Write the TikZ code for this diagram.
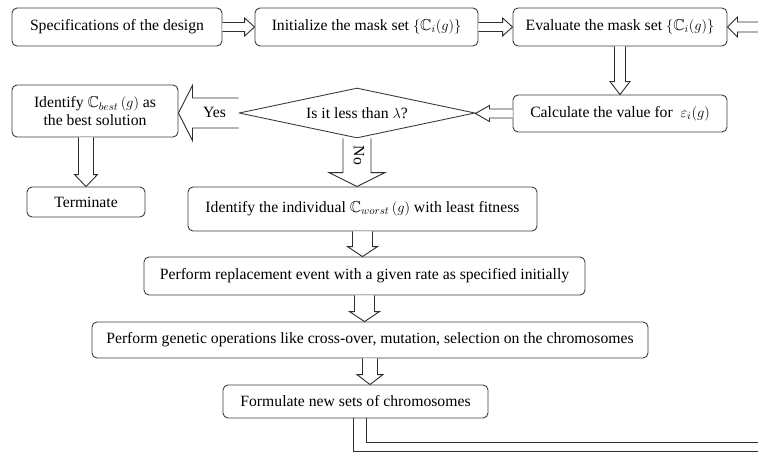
\documentclass[tikz,border=0pt]{standalone}
\usepackage{amssymb}
\usepackage{fontspec}
\setmainfont{Liberation Serif}
\usetikzlibrary{shapes.geometric, calc}

\definecolor{boxline}{HTML}{3C3C3C}
\definecolor{arrowline}{HTML}{2E2E2E}

\tikzset{
	stepbox/.style={
			draw=boxline,
			rounded corners=5pt,
			line width=0.9pt,
			fill=white,
			inner sep=0pt,
			align=center,
			font=\fontsize{15.7}{18}\selectfont
		},
	decisionbox/.style={
			diamond,
			draw=boxline,
			line width=0.9pt,
			aspect=4.7,
			inner sep=0pt,
			font=\fontsize{15.7}{18}\selectfont
		},
	blockarrow/.style={
			draw=arrowline,
			line width=0.9pt,
			fill=white,
			line join=miter
		},
	arrowtext/.style={
			font=\fontsize{15.7}{18}\selectfont,
			inner sep=0pt
		}
}

% hollow block arrows: from, to, half shaft, half head, head length
\newcommand{\rblockarrow}[5]{%
	\draw[blockarrow] let \p1=(#1), \p2=(#2) in
		(\x1,\y1+#3) -- (\x2-#5,\y1+#3) -- (\x2-#5,\y1+#4) -- (\x2,\y1)
		-- (\x2-#5,\y1-#4) -- (\x2-#5,\y1-#3) -- (\x1,\y1-#3);}
\newcommand{\lblockarrow}[5]{%
	\draw[blockarrow] let \p1=(#1), \p2=(#2) in
		(\x1,\y1+#3) -- (\x2+#5,\y1+#3) -- (\x2+#5,\y1+#4) -- (\x2,\y1)
		-- (\x2+#5,\y1-#4) -- (\x2+#5,\y1-#3) -- (\x1,\y1-#3);}
\newcommand{\dblockarrow}[5]{%
	\draw[blockarrow] let \p1=(#1), \p2=(#2) in
		(\x1-#3,\y1) -- (\x1-#3,\y2+#5) -- (\x1-#4,\y2+#5) -- (\x1,\y2)
		-- (\x1+#4,\y2+#5) -- (\x1+#3,\y2+#5) -- (\x1+#3,\y1);}

\begin{document}
\begin{tikzpicture}[x=1pt, y=-1pt]
	\useasboundingbox (0, 0) rectangle (758, 452);

	\node[stepbox, minimum width=210pt, minimum height=38pt] (spec) at (117, 27) {Specifications of the design};
	\node[stepbox, minimum width=223pt, minimum height=38pt] (init) at (366.5, 27) {Initialize the mask set $\{\mathbb{C}_i(g)\}$};
	\node[stepbox, minimum width=214pt, minimum height=38pt] (eval) at (620, 27) {Evaluate the mask set $\{\mathbb{C}_i(g)\}$};
	\node[stepbox, minimum width=214pt, minimum height=37pt] (calc) at (620, 113.5) {Calculate the value for\ \ $\varepsilon_i(g)$};
	\node[decisionbox, minimum width=236pt, minimum height=50pt] (less) at (357, 113) {Is it less than $\lambda$?};
	\node[stepbox, minimum width=166pt, minimum height=52pt] (best) at (95, 111) {Identify $\mathbb{C}_{best}\,(g)$ as\\the best solution};
	\node[stepbox, minimum width=118pt, minimum height=30pt] (term) at (86, 202) {Terminate};
	\node[stepbox, minimum width=349pt, minimum height=44pt] (worst) at (362.5, 209) {Identify the individual $\mathbb{C}_{worst}\,(g)$ with least fitness};
	\node[stepbox, minimum width=441pt, minimum height=38pt] (repl) at (364.5, 276) {Perform replacement event with a given rate as specified initially};
	\node[stepbox, minimum width=556pt, minimum height=36pt] (gen) at (370, 340) {Perform genetic operations like cross-over, mutation, selection on the chromosomes};
	\node[stepbox, minimum width=265pt, minimum height=33pt] (form) at (355.5, 401.5) {Formulate new sets of chromosomes};

	\coordinate (loopin) at (758, 27);
	\coordinate (loopout) at (758, 446.5);

	\rblockarrow{spec.east}{init.west}{4.5pt}{9pt}{10pt}
	\rblockarrow{init.east}{eval.west}{4.5pt}{9pt}{10pt}
	\lblockarrow{loopin}{eval.east}{5pt}{10pt}{10pt}
	\dblockarrow{eval.south}{calc.north}{5.5pt}{10pt}{13pt}
	\lblockarrow{calc.west}{less.east}{4.5pt}{8pt}{14pt}

	% yes / no branches
	\lblockarrow{less.west}{best.east}{15pt}{27.5pt}{14pt}
	\node[arrowtext] (yes) at ($(less.west)!0.4!(best.east)$) {Yes};
	\dblockarrow{less.south}{worst.north}{14pt}{28pt}{14pt}
	\node[arrowtext, rotate=-90] (no) at ($(less.south)!0.35!(worst.north)$) {No};

	\dblockarrow{best.south -| term.north}{term.north}{7.5pt}{11.5pt}{12pt}
	\dblockarrow{worst.south}{repl.north}{10pt}{15pt}{10pt}
	\dblockarrow{repl.south}{gen.north}{10pt}{15pt}{10pt}
	\dblockarrow{gen.south}{form.north}{7.5pt}{13pt}{10pt}

	% loop back to the evaluation
	\draw[blockarrow, fill=none] let \p1=(form.south), \p2=(loopout) in
		(\x1-2.5pt,\y1) -- (\x1-2.5pt,\y2-4.5pt) -- (\x2,\y2-4.5pt)
		(\x1+10.5pt,\y1) -- (\x1+10.5pt,\y2+4.5pt) -- (\x2,\y2+4.5pt);
\end{tikzpicture}
\end{document}
